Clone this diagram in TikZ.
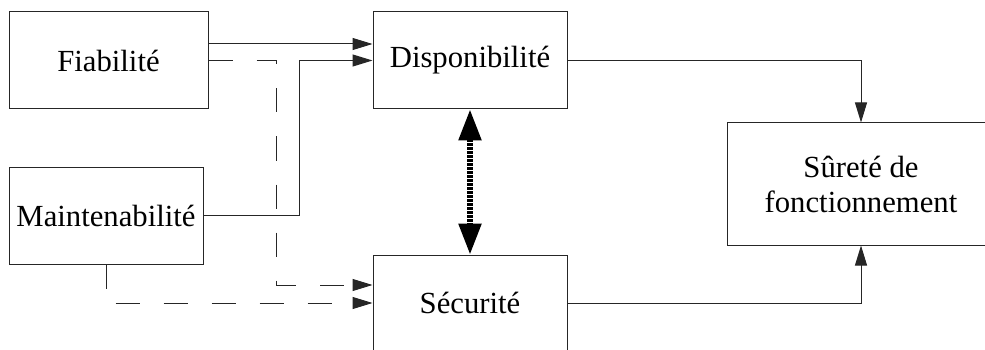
\documentclass[tikz,border=0pt]{standalone}
\usepackage{fontspec}
\setmainfont{Liberation Serif}
\usetikzlibrary{arrows.meta}
\begin{document}
\begin{tikzpicture}[x=1pt,y=-1pt,
  box/.style={draw=black!85,line width=1pt,inner sep=0pt,align=center,
    font=\fontsize{30.7}{35}\selectfont},
  arr/.style={draw=black!85,line width=1pt,-{Triangle[length=20pt,width=12pt]}},
  dsh/.style={arr,dash pattern=on 24pt off 24pt},
  dbl/.style={line width=5.5pt,dash pattern=on 2.5pt off 1.5pt,
    {Triangle[length=31pt,width=22pt]}-{Triangle[length=31pt,width=22pt]}}]
\useasboundingbox (0,0) rectangle (985,350);
\node[box,minimum width=199pt,minimum height=97pt] (F) at (108.5,60.5) {Fiabilité};
\node[box,minimum width=194pt,minimum height=97pt] (M) at (106,215.5) {Maintenabilité};
\node[box,minimum width=194pt,minimum height=97pt] (D) at (470,60.5) {Disponibilité};
\node[box,minimum width=194pt,minimum height=96pt] (S) at (470,303) {Sécurité};
\node[box,minimum width=268pt,minimum height=122pt] (R) at (861,184) {Sûreté de\\fonctionnement};
\draw[arr] ([yshift=16.5pt]F.east) -- ([yshift=16.5pt]D.west);
\draw[arr] (M.east) -| ([xshift=-73pt]D.west) -- (D.west);
\draw[dsh] (F.east) -| ([xshift=-96pt,yshift=18pt]S.west) -- ([yshift=18pt]S.west);
\draw[dsh] (M.south) |- (S.west);
\draw[dbl] (D.south) -- (S.north);
\draw[arr] (D.east) -| (R.north);
\draw[arr] (S.east) -| (R.south);
\end{tikzpicture}
\end{document}
